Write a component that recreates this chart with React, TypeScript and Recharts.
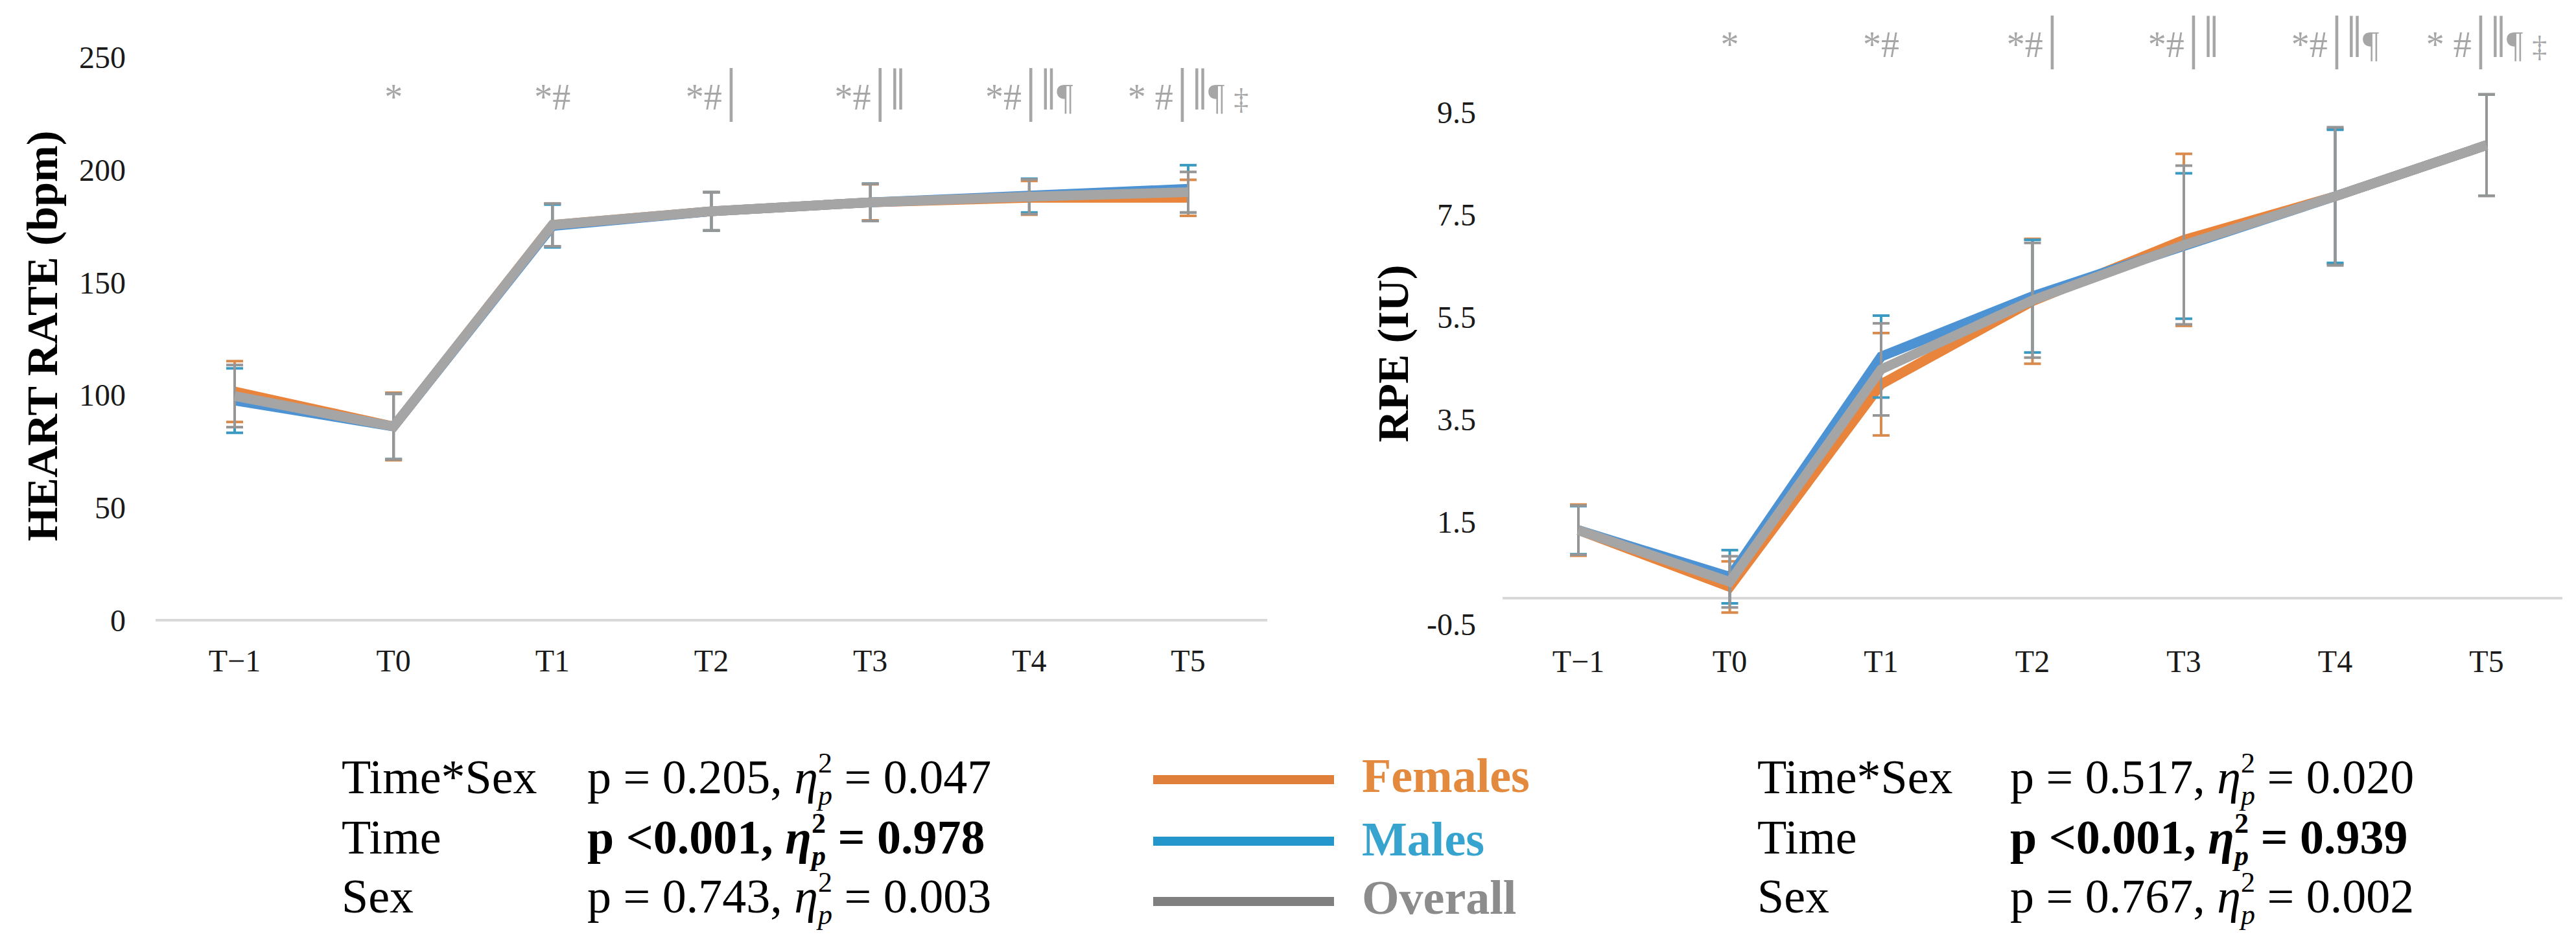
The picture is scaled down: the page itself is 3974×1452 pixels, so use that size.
import React from "react";
import { ErrorBar, Line, LineChart, ReferenceDot, ReferenceLine, XAxis, YAxis } from "recharts";

const TIMES = ["T−1", "T0", "T1", "T2", "T3", "T4", "T5"];
const SIG = ["", "*", "*#", "*#|", "*#|‖", "*#|‖¶", "* #|‖¶ ‡"];

// heart rate (bpm), mean and SD
const HR_FEMALES = [101.5, 86, 175.5, 181.5, 185.5, 187.5, 187.5];
const HR_MALES = [97.5, 86, 175, 181.5, 185.5, 188.5, 191.5];
const HR_OVERALL = [99.5, 86, 175.5, 181.5, 185.5, 188, 190];
const HR_FEMALES_SD = [13.5, 15, 9.5, 8.5, 8, 7.5, 8];
const HR_MALES_SD = [14.3, 14.5, 9.5, 8.5, 8.3, 7.5, 10.5];
const HR_OVERALL_SD = [13.8, 14.5, 9.5, 8.5, 8.3, 7.7, 9];
const HR_TICKS = [0, 50, 100, 150, 200, 250];

// RPE (IU), mean and SD
const RPE_FEMALES = [1.33, 0.22, 4.18, 5.8, 7.0, 7.85, 8.85];
const RPE_MALES = [1.33, 0.42, 4.72, 5.9, 6.88, 7.85, 8.85];
const RPE_OVERALL = [1.33, 0.32, 4.47, 5.82, 6.9, 7.85, 8.85];
const RPE_FEMALES_SD = [0.5, 0.5, 1.0, 1.22, 1.68, 1.32, 0.99];
const RPE_MALES_SD = [0.47, 0.52, 0.8, 1.1, 1.42, 1.3, 0.99];
const RPE_OVERALL_SD = [0.48, 0.5, 0.9, 1.12, 1.55, 1.35, 0.99];
const RPE_TICKS = [-0.5, 1.5, 3.5, 5.5, 7.5, 9.5];

const STAT_EFFECTS = ["Time*Sex", "Time", "Sex"];
const HR_P = ["p = 0.205", "p <0.001", "p = 0.743"];
const HR_ETA = ["0.047", "0.978", "0.003"];
const RPE_P = ["p = 0.517", "p <0.001", "p = 0.767"];
const RPE_ETA = ["0.020", "0.939", "0.002"];

const SERIES_KEYS = ["f", "m", "o"];
const SERIES_NAMES = ["Females", "Males", "Overall"];
const LINE_COLORS = ["#E9843C", "#4D93D3", "#A5A5A5"];
const CAP_COLORS = ["#D98B4E", "#3B9AC2", "#969696"];
const LEGEND_LINE = ["#E07F3A", "#2496CB", "#808080"];
const LEGEND_TEXT = ["#E38A3E", "#36A4CF", "#8C8C8C"];

const FONT = "'Liberation Serif', 'Times New Roman', serif";

const hrRows = TIMES.map((t, i) => ({
  t,
  f: HR_FEMALES[i],
  m: HR_MALES[i],
  o: HR_OVERALL[i],
  fe: HR_FEMALES_SD[i],
  me: HR_MALES_SD[i],
  oe: HR_OVERALL_SD[i],
}));

const rpeRows = TIMES.map((t, i) => ({
  t,
  f: RPE_FEMALES[i],
  m: RPE_MALES[i],
  o: RPE_OVERALL[i],
  fe: RPE_FEMALES_SD[i],
  me: RPE_MALES_SD[i],
  oe: RPE_OVERALL_SD[i],
}));

function series() {
  return SERIES_KEYS.map((k, i) => (
    <Line
      key={k}
      dataKey={k}
      name={SERIES_NAMES[i]}
      stroke={LINE_COLORS[i]}
      strokeWidth={15}
      dot={false}
      activeDot={false}
      isAnimationActive={false}
    >
      <ErrorBar dataKey={k + "e"} direction="y" width={13} stroke={CAP_COLORS[i]} strokeWidth={4} isAnimationActive={false} />
    </Line>
  ));
}

function SigMark(props: any) {
  const vb = props.viewBox || {};
  const cx = vb.x + (vb.width || 0) / 2;
  const cy = vb.y + (vb.height || 0) / 2;
  return (
    <text x={cx} y={cy + 18} textAnchor="middle" fill="#A6A6A6" fontFamily={FONT}>
      {Array.from(props.text as string).map((ch, i) => {
        const bar = ch === "|" || ch === "‖";
        return (
          <tspan key={i} fontSize={bar ? 92 : ch === "‡" ? 46 : 56} dx={bar ? 5 : 0}>
            {ch}
          </tspan>
        );
      })}
    </text>
  );
}

function yTitle(text: string, cx: number, dy: number) {
  return (props: any) => {
    const vb = props.viewBox;
    const x = vb.x + cx;
    const y = vb.y + vb.height / 2 + dy;
    return (
      <text
        transform={`translate(${x}, ${y}) rotate(-90)`}
        textAnchor="middle"
        dominantBaseline="central"
        fontFamily={FONT}
        fontWeight={700}
        fontSize={68}
        fill="#000"
      >
        {text}
      </text>
    );
  };
}

const tickStyle = { fontSize: 48, fontFamily: FONT, fill: "#1A1A1A" };

function HeartRateChart() {
  return (
    <LineChart width={1987} height={1100} data={hrRows} margin={{ top: 88, right: 32, left: 0, bottom: 43 }}>
      <XAxis
        dataKey="t"
        height={100}
        padding={{ left: 122, right: 122 }}
        axisLine={{ stroke: "#D9D9D9", strokeWidth: 4 }}
        tickLine={false}
        tickSize={0}
        tickMargin={45}
        tick={tickStyle}
        interval={0}
      />
      <YAxis
        domain={[0, 250]}
        ticks={HR_TICKS}
        width={240}
        axisLine={false}
        tickLine={false}
        tickSize={0}
        tickMargin={46}
        tick={tickStyle}
        label={{ content: yTitle("HEART RATE (bpm)", 65, -4) }}
      />
      {series()}
      {TIMES.map((t, i) =>
        SIG[i] ? (
          <ReferenceDot key={t} x={t} y={232} r={1} fill="none" stroke="none" label={{ content: (p: any) => <SigMark {...p} text={SIG[i]} /> }} />
        ) : null
      )}
    </LineChart>
  );
}

function RpeChart() {
  return (
    <LineChart width={1984} height={1100} data={rpeRows} margin={{ top: 14.6, right: 21, left: 0, bottom: 37.4 }}>
      <XAxis
        dataKey="t"
        height={100}
        padding={{ left: 117, right: 117 }}
        axisLine={false}
        tickLine={false}
        tickSize={0}
        tickMargin={40}
        tick={tickStyle}
        interval={0}
      />
      <YAxis
        domain={[-0.5, 11.5]}
        ticks={RPE_TICKS}
        width={328}
        axisLine={false}
        tickLine={false}
        tickSize={0}
        tickMargin={41}
        tick={tickStyle}
        label={{ content: yTitle("RPE (IU)", 159, 57) }}
      />
      <ReferenceLine y={0} stroke="#D9D9D9" strokeWidth={4} />
      {series()}
      {TIMES.map((t, i) =>
        SIG[i] ? (
          <ReferenceDot key={t} x={t} y={10.8} r={1} fill="none" stroke="none" label={{ content: (p: any) => <SigMark {...p} text={SIG[i]} /> }} />
        ) : null
      )}
    </LineChart>
  );
}

function StatBlock({ x1, x2, ps, etas }: { x1: number; x2: number; ps: string[]; etas: string[] }) {
  const baselines = [1224, 1317, 1408];
  return (
    <g fontFamily={FONT} fontSize={74} fill="#000">
      {STAT_EFFECTS.map((eff, i) => (
        <g key={eff}>
          <text x={x1} y={baselines[i]}>
            {eff}
          </text>
          <text x={x2} y={baselines[i]} fontWeight={i === 1 ? 700 : 400}>
            <tspan>{ps[i] + ", "}</tspan>
            <tspan fontStyle="italic">η</tspan>
            <tspan fontSize={44} dy={-32}>
              2
            </tspan>
            <tspan fontSize={44} fontStyle="italic" dx={-22} dy={50}>
              p
            </tspan>
            <tspan dy={-18}>{" = " + etas[i]}</tspan>
          </text>
        </g>
      ))}
    </g>
  );
}

function Legend() {
  const lineY = [1203, 1298, 1391];
  const textY = [1222, 1320, 1410];
  return (
    <g fontFamily={FONT} fontSize={74} fontWeight={700}>
      {SERIES_NAMES.map((n, i) => (
        <g key={n}>
          <line x1={1779} x2={2058} y1={lineY[i]} y2={lineY[i]} stroke={LEGEND_LINE[i]} strokeWidth={14} />
          <text x={2101} y={textY[i]} fill={LEGEND_TEXT[i]}>
            {n}
          </text>
        </g>
      ))}
    </g>
  );
}

export default function App() {
  return (
    <div style={{ position: "absolute", left: 0, top: 0, width: 3974, height: 1452, background: "#fff", overflow: "hidden" }}>
      <div style={{ position: "absolute", left: 0, top: 0 }}>
        <HeartRateChart />
      </div>
      <div style={{ position: "absolute", left: 1990, top: 0 }}>
        <RpeChart />
      </div>
      <svg width={3974} height={1452} style={{ position: "absolute", left: 0, top: 0, pointerEvents: "none" }}>
        <StatBlock x1={527} x2={906} ps={HR_P} etas={HR_ETA} />
        <Legend />
        <StatBlock x1={2711} x2={3101} ps={RPE_P} etas={RPE_ETA} />
      </svg>
    </div>
  );
}
